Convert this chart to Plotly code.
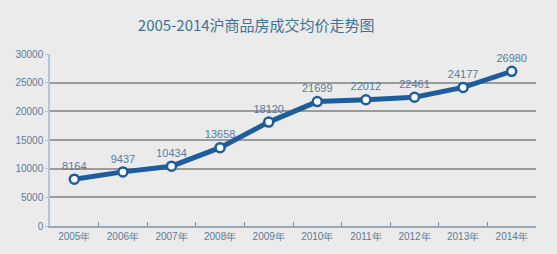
import plotly.graph_objects as go

years = ["2005年", "2006年", "2007年", "2008年", "2009年", "2010年", "2011年", "2012年", "2013年", "2014年"]
prices = [8164, 9437, 10434, 13658, 18120, 21699, 22012, 22461, 24177, 26980]
y_ticks = [0, 5000, 10000, 15000, 20000, 25000, 30000]
title_text = "2005-2014沪商品房成交均价走势图"

xi = list(range(len(years)))

fig = go.Figure()
fig.add_trace(go.Scatter(
    x=xi, y=prices, mode="lines+markers+text",
    line=dict(color="#1d5d9b", width=5),
    marker=dict(size=9, color="white", line=dict(color="#1d5d9b", width=2.5)),
    text=[str(v) for v in prices], textposition="top center",
    textfont=dict(size=11, color="#5b7b98", family="Liberation Sans, Arial"),
    cliponaxis=False, showlegend=False,
))

fig.update_layout(
    width=557, height=254,
    margin=dict(l=50, r=21, t=54, b=28),
    paper_bgcolor="#ebebeb", plot_bgcolor="#ebebeb",
    title=dict(text=title_text, x=0.46, xanchor="center", y=0.9, yanchor="middle",
               font=dict(size=15, color="#3d7396", family="Noto Sans CJK SC")),
    font=dict(family="Liberation Sans, Arial", size=10, color="#5b7b98"),
)
fig.update_xaxes(
    range=[-0.5, 9.5], tickmode="array", tickvals=xi, ticktext=years,
    showgrid=False, zeroline=False, showline=True, linecolor="#9aaab8", linewidth=1.5,
    ticks="", tickfont=dict(size=10, color="#5b7b98"),
    minor=dict(tickvals=[i + 0.5 for i in range(9)], ticks="inside", ticklen=4, tickcolor="#7d8e9e"),
)
fig.update_yaxes(
    range=[0, 30000], tickmode="array", tickvals=y_ticks, ticktext=[str(v) for v in y_ticks],
    showgrid=True, gridcolor="#9b9b9b", gridwidth=1.5, zeroline=False,
    showline=True, linecolor="#b4c6d6", linewidth=1.5,
    ticks="outside", ticklen=3, tickcolor="#b4c6d6",
    tickfont=dict(size=10, color="#5b7b98"),
)
fig.write_html("out.html")
